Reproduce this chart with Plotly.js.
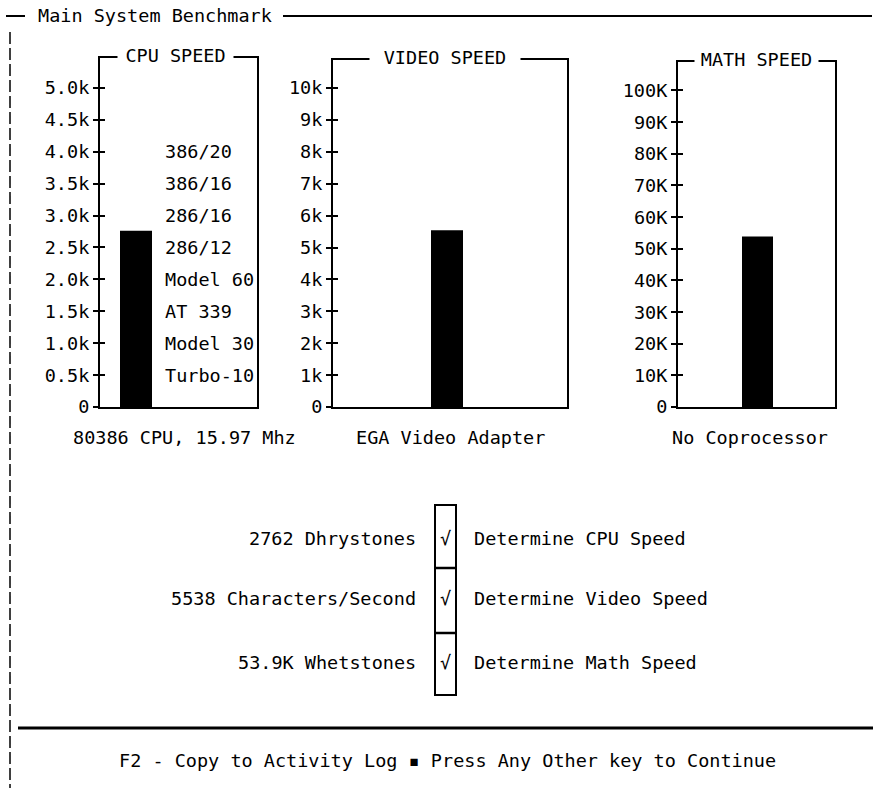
<!DOCTYPE html>
<html><head><meta charset="utf-8">
<script src="https://cdn.plot.ly/plotly-3.0.1.min.js"></script>
<style>html,body{margin:0;padding:0;background:#fff;}#chart{width:878px;height:788px;}</style>
</head><body><div id="chart"></div>
<script>
// ---------------- data ----------------
const screenTitle = "Main System Benchmark";
const panelTitles = ["CPU SPEED", "VIDEO SPEED", "MATH SPEED"];
const components = ["80386 CPU, 15.97 Mhz", "EGA Video Adapter", "No Coprocessor"];
const cpuValue = 2762;     // Dhrystones
const videoValue = 5538;   // Characters/Second
const mathValue = 53900;   // Whetstones
const cpuTickVals = [0, 500, 1000, 1500, 2000, 2500, 3000, 3500, 4000, 4500, 5000];
const cpuTickText = ["0", "0.5k", "1.0k", "1.5k", "2.0k", "2.5k", "3.0k", "3.5k", "4.0k", "4.5k", "5.0k"];
const videoTickVals = [0, 1000, 2000, 3000, 4000, 5000, 6000, 7000, 8000, 9000, 10000];
const videoTickText = ["0", "1k", "2k", "3k", "4k", "5k", "6k", "7k", "8k", "9k", "10k"];
const mathTickVals = [0, 10000, 20000, 30000, 40000, 50000, 60000, 70000, 80000, 90000, 100000];
const mathTickText = ["0", "10K", "20K", "30K", "40K", "50K", "60K", "70K", "80K", "90K", "100K"];
const refMachines = ["386/20", "386/16", "286/16", "286/12", "Model 60", "AT 339", "Model 30", "Turbo-10"];
const refLevels = [4000, 3500, 3000, 2500, 2000, 1500, 1000, 500];
const resultUnits = ["Dhrystones", "Characters/Second", "Whetstones"];
const testNames = ["Determine CPU Speed", "Determine Video Speed", "Determine Math Speed"];
const checkMark = "\u221A";
const footerText = "F2 - Copy to Activity Log \u25AA Press Any Other key to Continue";

// ---------------- layout helpers (pixels -> paper) ----------------
const W = 878, H = 788;
const X = v => v / W;
const Y = v => 1 - v / H;
const FS = 18.5;

const values = [cpuValue, videoValue, mathValue];
const tickVals = [cpuTickVals, videoTickVals, mathTickVals];
const tickText = [cpuTickText, videoTickText, mathTickText];
const resultText = [
  cpuValue + " " + resultUnits[0],
  videoValue + " " + resultUnits[1],
  (mathValue / 1000).toFixed(1) + "K " + resultUnits[2]
];

// panel geometry (style only)
const panels = [
  {l: 100, r: 257, t: 58, b: 407, ymax: 5470,   bc: 136,   bw: 32, gapC: 175.5, gapW: 115, labC: 184},
  {l: 333, r: 567, t: 60, b: 407, ymax: 10878,  bc: 447,   bw: 32, gapC: 445,   gapW: 150, labC: 450},
  {l: 678, r: 835, t: 62, b: 407, ymax: 109000, bc: 757.5, bw: 31, gapC: 756.5, gapW: 123, labC: 750}
];

const data = [];
const layout = {
  width: W, height: H,
  margin: {l: 0, r: 0, t: 0, b: 0},
  paper_bgcolor: "#fff", plot_bgcolor: "#fff",
  showlegend: false,
  font: {family: "DejaVu Sans Mono, Liberation Mono, monospace", size: FS, color: "#000"},
  annotations: [], shapes: []
};

panels.forEach((p, i) => {
  const xs = i === 0 ? "" : String(i + 1);
  const ys = xs;
  const yo = String(i + 4);
  const span = p.r - p.l;
  data.push({
    type: "bar", x: [components[i]], y: [values[i]],
    xaxis: "x" + xs, yaxis: "y" + ys,
    width: [p.bw / span],
    marker: {color: "#000", line: {width: 0}},
    hoverinfo: "skip"
  });
  // carrier trace for the inner half of the cross ticks
  data.push({
    type: "scatter", mode: "none", x: [components[i]], y: [0],
    xaxis: "x" + xs, yaxis: "y" + yo, hoverinfo: "skip"
  });
  layout["xaxis" + xs] = {
    domain: [X(p.l), X(p.r)], anchor: "y" + ys, type: "category",
    range: [-(p.bc - p.l) / span, (p.r - p.bc) / span],
    showline: true, mirror: true, linecolor: "#000", linewidth: 2,
    ticks: "", showticklabels: false, showgrid: false, zeroline: false, fixedrange: true
  };
  layout["yaxis" + ys] = {
    domain: [Y(p.b), Y(p.t)], anchor: "x" + xs,
    range: [0, p.ymax], tickmode: "array", tickvals: tickVals[i], ticktext: tickText[i],
    ticks: "outside", ticklen: 5, tickwidth: 2, tickcolor: "#000",
    showline: true, mirror: true, linecolor: "#000", linewidth: 2,
    showgrid: false, zeroline: false, fixedrange: true,
    tickfont: {size: FS}
  };
  layout["yaxis" + yo] = {
    overlaying: "y" + ys, anchor: "x" + xs, side: "left",
    range: [0, p.ymax], tickmode: "array", tickvals: tickVals[i],
    ticks: "inside", ticklen: 5, tickwidth: 2, tickcolor: "#000",
    showticklabels: false, showline: false, showgrid: false, zeroline: false, fixedrange: true
  };
  // panel title set into the top border
  layout.annotations.push({
    xref: "x" + xs + " domain", yref: "y" + ys + " domain",
    x: (p.gapC - p.l) / span, y: 1, yanchor: "middle", yshift: 3,
    text: panelTitles[i], showarrow: false, bgcolor: "#fff",
    width: p.gapW, height: 20, borderpad: 0, align: "center"
  });
  // component label under the panel
  layout.annotations.push({
    xref: "paper", yref: "paper", x: X(p.labC), y: Y(438),
    xanchor: "center", yanchor: "middle", text: components[i], showarrow: false
  });
});

// reference machine labels inside the CPU panel
refMachines.forEach((m, k) => {
  layout.annotations.push({
    xref: "x domain", yref: "y", x: (163 - 100) / (257 - 100), y: refLevels[k],
    xanchor: "left", yanchor: "middle", text: m, showarrow: false
  });
});

// screen title
layout.annotations.push({
  xref: "paper", yref: "paper", x: X(36), y: Y(15), xanchor: "left", yanchor: "middle",
  text: screenTitle, showarrow: false
});

// result rows
const rowY = [538, 598, 662];
resultText.forEach((t, k) => {
  layout.annotations.push({xref: "paper", yref: "paper", x: X(418), y: Y(rowY[k]),
    xanchor: "right", yanchor: "middle", text: t, showarrow: false});
  layout.annotations.push({xref: "paper", yref: "paper", x: X(445.5), y: Y(rowY[k]),
    xanchor: "center", yanchor: "middle", text: checkMark, showarrow: false});
  layout.annotations.push({xref: "paper", yref: "paper", x: X(472), y: Y(rowY[k]),
    xanchor: "left", yanchor: "middle", text: testNames[k], showarrow: false});
});

// footer
layout.annotations.push({
  xref: "paper", yref: "paper", x: X(447), y: Y(760), xanchor: "center", yanchor: "middle",
  text: footerText, showarrow: false
});

// decorative frame lines
const line = (x0, y0, x1, y1, w, dash) => ({
  type: "line", xref: "paper", yref: "paper",
  x0: X(x0), y0: Y(y0), x1: X(x1), y1: Y(y1),
  line: {color: "#000", width: w, dash: dash || "solid"}
});
layout.shapes.push(line(6, 16, 25, 16, 2));
layout.shapes.push(line(283, 16, 872, 16, 2));
layout.shapes.push(line(10, 32, 10, 788, 1.5, "12px,4px"));
layout.shapes.push({type: "rect", xref: "paper", yref: "paper",
  x0: X(435), y0: Y(505), x1: X(456), y1: Y(695), line: {color: "#000", width: 2}});
layout.shapes.push(line(435, 568, 456, 568, 2.5));
layout.shapes.push(line(435, 633, 456, 633, 2.5));
layout.shapes.push(line(18, 728, 873, 728, 3));

Plotly.newPlot("chart", data, layout, {displayModeBar: false, staticPlot: true});
</script>
</body></html>
